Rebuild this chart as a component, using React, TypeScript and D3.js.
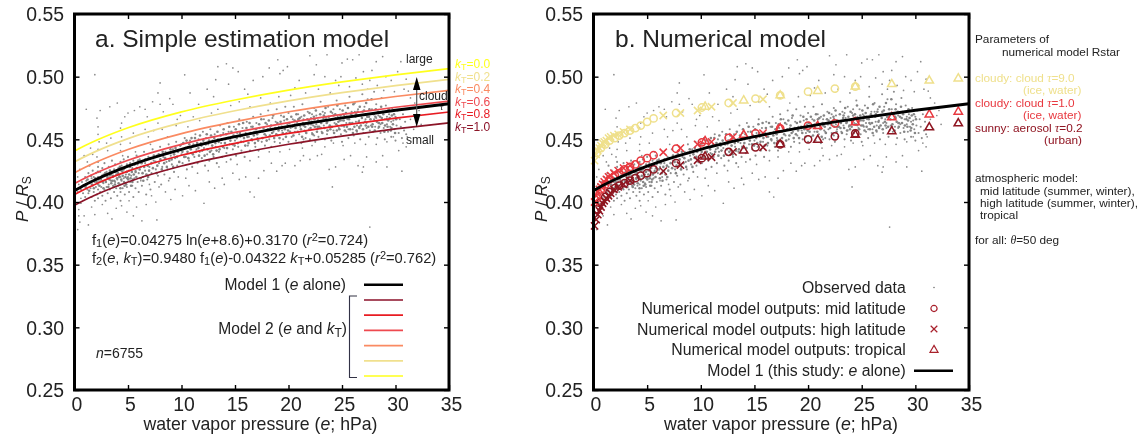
import React, { useEffect, useRef } from "react";
import * as d3 from "d3";

const W = 1145, H = 440;

// model curves, read at these e values
const eGrid = [0, 1, 2, 5, 10, 15, 20, 25, 30, 35];
const model1 = [0.409, 0.4137, 0.4179, 0.4286, 0.442, 0.4521, 0.4604, 0.4672, 0.4732, 0.4784];
const kt00 = [0.4406, 0.445, 0.449, 0.4592, 0.4719, 0.4814, 0.4893, 0.4958, 0.5015, 0.5064];
const kt02 = [0.432, 0.4364, 0.4404, 0.4506, 0.4633, 0.4728, 0.4807, 0.4872, 0.4929, 0.4978];
const kt04 = [0.4233, 0.4277, 0.4317, 0.4419, 0.4546, 0.4641, 0.472, 0.4785, 0.4842, 0.4891];
const kt06 = [0.4147, 0.4191, 0.4231, 0.4333, 0.446, 0.4555, 0.4634, 0.4699, 0.4756, 0.4805];
const kt08 = [0.406, 0.4104, 0.4144, 0.4246, 0.4373, 0.4468, 0.4547, 0.4612, 0.4669, 0.4718];
const kt10 = [0.3974, 0.4018, 0.4058, 0.416, 0.4287, 0.4382, 0.4461, 0.4526, 0.4583, 0.4632];

const ktSeries = [kt10, kt08, kt06, kt04, kt02, kt00];
const ktColors = ["#8b1228", "#e81c24", "#ee4a50", "#fa8a62", "#f0e08e", "#ffff1e"];
const ktLabels = ["1.0", "0.8", "0.6", "0.4", "0.2", "0.0"];

// numerical model outputs: e, then P/Rs for the three parameter sets
const midE = [0.3, 0.7, 1.1, 1.5, 2, 2.4, 2.9, 3.4, 3.9, 4.4, 5, 5.6, 7.7, 10.1, 12.6, 15.1, 17.4, 20, 22.5, 24.4];
const midCloud9 = [0.439, 0.443, 0.446, 0.449, 0.451, 0.453, 0.455, 0.457, 0.459, 0.461, 0.464, 0.4667, 0.471, 0.4754, 0.479, 0.4825, 0.485, 0.488, 0.4905, 0.492];
const midCloud1 = [0.403, 0.41, 0.414, 0.418, 0.421, 0.423, 0.426, 0.428, 0.43, 0.433, 0.435, 0.4373, 0.4425, 0.4476, 0.4512, 0.4548, 0.4587, 0.461, 0.4627, 0.4643];
const midAerosol = [0.394, 0.4, 0.404, 0.408, 0.411, 0.413, 0.415, 0.417, 0.419, 0.421, 0.423, 0.426, 0.431, 0.435, 0.44, 0.4436, 0.446, 0.45, 0.4524, 0.4548];

const highE = [0.1, 0.25, 0.4, 0.55, 0.7, 0.85, 1, 1.2, 1.4, 1.6, 1.9, 2.3, 2.8, 3.4, 6.5, 8.1, 9.7, 11, 13, 15.8];
const highCloud9 = [0.433, 0.438, 0.441, 0.443, 0.445, 0.447, 0.448, 0.449, 0.451, 0.452, 0.453, 0.454, 0.456, 0.458, 0.469, 0.471, 0.473, 0.476, 0.479, 0.482];
const highCloud1 = [0.4, 0.405, 0.408, 0.41, 0.412, 0.414, 0.416, 0.418, 0.42, 0.421, 0.423, 0.425, 0.427, 0.429, 0.4397, 0.443, 0.446, 0.448, 0.452, 0.455];
const highAerosol = [0.381, 0.386, 0.39, 0.393, 0.396, 0.399, 0.401, 0.403, 0.405, 0.407, 0.41, 0.412, 0.414, 0.417, 0.4246, 0.4294, 0.4333, 0.4357, 0.44, 0.4437];

const tropE = [10.4, 14, 17.4, 20.9, 24.4, 27.8, 31.3, 34];
const tropCloud9 = [0.476, 0.481, 0.485, 0.4885, 0.492, 0.494, 0.4968, 0.4985];
const tropCloud1 = [0.4485, 0.4535, 0.4587, 0.4605, 0.4635, 0.4675, 0.4698, 0.472];
const tropAerosol = [0.4362, 0.441, 0.446, 0.4495, 0.4535, 0.4564, 0.4595, 0.4627];

const markerColors = { cloud9: "#efe08c", cloud1: "#e8383f", aerosol: "#8f1420" };

const obsSparse = [
  1.9,.5016, 8,.495, 7.8,.487, 10.3,.5015, 8.9,.4825, 2.1,.467, 5,.471, 6.1,.476, 7.3,.48, 8,.478, 6.6,.474, 9.2,.478,
  1.3,.3817, 3.5,.3865, 5.5,.389, 6.3,.385, 7.7,.3857, 1.9,.39, 4.9,.392, 0.4,.394, 0.4,.389, 0.5,.384, 0.3,.378, 0.6,.399,
  14.2,.5103, 13.4,.508, 15.3,.504, 13.2,.4976, 14.8,.507, 19,.5135, 18.2,.507, 19.9,.508, 19.2,.5024, 19.5,.505, 22.6,.5095, 22,.5167, 22.4,.5016,
  25,.511, 26,.5135, 25.5,.514, 27,.504, 27.8,.505, 28.2,.512, 30.5,.512, 28.8,.516, 23.6,.5175, 26.6,.5175,
  26.9,.4238, 27,.428, 26.5,.429, 24.1,.412, 27.6,.38, 30.6,.4246, 23.8,.426, 24.4,.428, 25.2,.434, 29.2,.428, 28.2,.432,
  16.4,.408, 16.8,.404, 12.1,.399, 12.6,.416, 14,.414, 15.4,.418, 19.4,.429, 18.9,.4246, 22,.434, 22.7,.437, 19.7,.431, 17.7,.425,
  1.1,.474, 2.4,.473, 3.3,.476, 4,.479, 4.7,.468, 5.6,.473, 6.8,.468, 8.3,.472, 9.6,.466, 10.8,.487, 11.6,.478, 12.4,.49, 13,.484, 14.4,.494, 15.9,.49, 16.7,.497, 17.6,.5, 16.2,.486, 21,.497, 23.4,.5, 24.4,.497, 20.6,.491, 24.9,.5, 26.3,.499, 29.1,.5, 31,.498, 30.2,.504, 29.6,.497,
  31.2,.4885, 31.8,.479, 32.2,.473, 31.4,.466, 31.7,.458, 31.1,.452, 30.7,.447, 32.4,.462, 30.3,.441, 31,.444, 32,.469, 31.4,.483, 30.8,.49,
  0.9,.389, 1.6,.396, 2.6,.398, 3.1,.391, 3.9,.395, 4.4,.397, 5.1,.401, 5.8,.396, 6.7,.398, 7.2,.405, 7.6,.4, 8.5,.408, 9.4,.41, 10.1,.405, 10.7,.413, 11.3,.409, 9,.402, 13.1,.411, 13.8,.419, 14.8,.423, 16,.42, 17.2,.419, 18.4,.431, 20.6,.429, 21.4,.437, 21.1,.433, 23.1,.438, 25.8,.437, 27.3,.436, 28.8,.437,
  0.3,.408, 0.4,.414, 0.3,.42, 0.5,.426, 0.6,.403, 1.2,.432, 0.9,.437, 1.5,.443, 1.7,.438, 2.3,.448, 2.2,.454, 2.2,.46, 2.2,.442, 2.1,.436, 3.1,.441, 3,.447, 3.4,.451, 4.3,.459, 4.4,.452, 4.3,.446, 4.3,.441, 4.5,.437, 4.4,.463, 5.2,.447, 5.5,.455, 5.7,.44, 6.6,.458, 6.9,.452, 7.1,.446, 7.8,.463, 7.4,.457, 8.2,.458, 8.7,.452, 9.5,.461, 10.6,.46, 9.9,.469, 11.1,.468, 11.7,.465, 12.8,.471, 13.4,.474, 14.6,.477, 15.4,.48, 16.4,.476, 17.4,.483, 18.3,.479, 19.1,.484, 20.2,.485, 21.6,.487, 22.8,.49, 23.9,.487, 24.7,.493, 25.7,.492, 26.9,.494, 27.6,.497, 28.3,.493, 27.4,.49, 28.9,.489, 29.9,.488,
  6.2,.417, 7,.414, 7.9,.412, 8.8,.417, 9.7,.42, 10.4,.419, 11.5,.423, 12.5,.425, 13.5,.428, 14.2,.432, 15.2,.43, 16.4,.433, 17.2,.436, 18.2,.44, 19.2,.44, 20.1,.442, 21.3,.443, 22.2,.445, 23.4,.444, 24.2,.447, 25.1,.445, 26.2,.447, 27.2,.446, 28.2,.446, 29.2,.448, 29.8,.452,
];
const obsLow = [
  0.6,.41, 0.7,.416, 0.8,.407, 0.9,.413, 1,.42, 1,.404, 1.1,.417, 1.2,.41, 1.3,.423, 1.3,.407, 1.4,.415, 1.4,.429, 1.5,.411, 1.6,.419, 1.6,.404, 1.7,.425, 1.7,.413, 1.8,.408, 1.8,.42, 1.9,.416, 1.9,.401,
  2,.423, 2,.412, 2.1,.406, 2.1,.418, 2.2,.428, 2.2,.414, 2.2,.41, 2.2,.42, 2.2,.432, 2.2,.403, 2.3,.416, 2.4,.424, 2.4,.408, 2.5,.412, 2.5,.419, 2.6,.427, 2.6,.405, 2.7,.415, 2.7,.422, 2.8,.41, 2.8,.431, 2.9,.417, 2.9,.401,
  3,.412, 3,.424, 3.1,.419, 3.1,.407, 3.2,.414, 3.2,.428, 3.3,.421, 3.3,.41, 3.4,.417, 3.4,.403, 3.5,.424, 3.5,.433, 3.6,.413, 3.6,.42, 3.7,.408, 3.7,.426, 3.8,.416, 3.8,.43, 3.9,.422, 3.9,.411,
  4,.418, 4,.405, 4.1,.427, 4.1,.413, 4.2,.421, 4.3,.432, 4.3,.426, 4.3,.42, 4.3,.414, 4.3,.408, 4.3,.401, 4.4,.429, 4.4,.417, 4.5,.424, 4.5,.411, 4.6,.419, 4.6,.434, 4.7,.427, 4.7,.406, 4.8,.415, 4.8,.422, 4.9,.43, 4.9,.412, 5,.42, 5,.436, 5.1,.425, 5.1,.408, 5.2,.416, 5.2,.431, 5.3,.421, 5.4,.427, 5.4,.413, 5.5,.433, 5.5,.404, 5.6,.419, 5.7,.425, 5.7,.411, 5.8,.437, 5.9,.416, 5.9,.43,
  6,.423, 6,.408, 6.1,.434, 6.2,.428, 6.3,.413, 6.4,.42, 6.5,.44, 6.6,.431, 6.6,.425, 6.7,.406, 6.8,.418, 6.9,.436, 7,.428, 7.1,.41, 7.2,.423, 7.3,.442, 7.4,.433, 7.5,.416, 7.6,.426, 7.7,.437, 7.8,.421, 7.9,.431, 8,.444, 8.1,.414, 8.2,.428, 8.3,.436, 8.4,.422, 8.5,.44, 8.6,.432, 8.7,.426, 8.8,.446, 8.9,.419, 9,.437, 9.1,.43, 9.2,.442, 9.3,.424, 9.4,.435, 9.5,.448, 9.6,.429,
];
const obsMid = [
  10,.438, 10,.446, 10.1,.431, 10.2,.442, 10.3,.451, 10.4,.436, 10.5,.426, 10.6,.444, 10.7,.433, 10.8,.449, 10.9,.439, 11,.428, 11.1,.446, 11.2,.436, 11.3,.454, 11.4,.442, 11.5,.431, 11.6,.45, 11.7,.44, 11.8,.447, 11.9,.435, 12,.456, 12.1,.443, 12.2,.429, 12.3,.451, 12.4,.438, 12.5,.446, 12.6,.433, 12.7,.458, 12.8,.441, 12.9,.449, 13,.436, 13.1,.454, 13.2,.444, 13.3,.431, 13.4,.45, 13.5,.44, 13.6,.461, 13.7,.447, 13.8,.436, 13.9,.455, 14,.443,
  14.1,.45, 14.2,.439, 14.3,.463, 14.4,.456, 14.5,.446, 14.6,.434, 14.7,.452, 14.8,.442, 14.9,.46, 15,.449, 15.1,.437, 15.2,.455, 15.3,.444, 15.4,.466, 15.5,.452, 15.6,.441, 15.7,.459, 15.8,.448, 15.9,.436, 16,.455, 16.1,.464, 16.2,.445, 16.3,.452, 16.4,.441, 16.5,.46, 16.6,.449, 16.7,.468, 16.8,.456, 16.9,.444, 17,.463, 17.1,.451, 17.2,.441, 17.3,.459, 17.4,.47, 17.5,.448,
  17.6,.456, 17.7,.466, 17.8,.445, 17.9,.453, 18,.462, 18.1,.473, 18.2,.45, 18.3,.459, 18.4,.444, 18.5,.467, 18.6,.456, 18.7,.448, 18.8,.464, 18.9,.474, 19,.453, 19.1,.46, 19.2,.447, 19.3,.469, 19.4,.457, 19.5,.45, 19.6,.465, 19.7,.476, 19.8,.455, 19.9,.462, 20,.448, 20,.471,
];
const obsHigh = [
  20.2,.459, 20.3,.452, 20.4,.466, 20.5,.476, 20.6,.456, 20.7,.449, 20.8,.463, 20.9,.47, 21,.454, 21.1,.46, 21.2,.447, 21.3,.478, 21.4,.466, 21.5,.457, 21.6,.451, 21.7,.463, 21.8,.472, 21.9,.458, 22,.45, 22.1,.467, 22.2,.455, 22.3,.461, 22.4,.475, 22.5,.448, 22.6,.469, 22.7,.458, 22.8,.452, 22.9,.464, 23,.48, 23.1,.456, 23.2,.472, 23.3,.461, 23.4,.45, 23.5,.467, 23.6,.454, 23.7,.476, 23.8,.46, 23.9,.465, 24,.449,
  24.1,.471, 24.2,.457, 24.3,.463, 24.4,.452, 24.5,.481, 24.6,.468, 24.7,.459, 24.8,.474, 24.9,.454, 25,.465, 25,.448, 25.1,.47, 25.2,.46, 25.3,.477, 25.4,.456, 25.5,.466, 25.6,.451, 25.7,.484, 25.8,.462, 25.9,.472, 26,.458, 26,.468, 26.1,.453, 26.2,.479, 26.3,.464, 26.4,.456, 26.5,.474, 26.6,.46, 26.7,.45, 26.8,.469, 26.9,.486, 27,.463, 27,.455, 27.1,.476, 27.2,.466, 27.3,.459, 27.4,.482, 27.5,.452, 27.6,.47, 27.7,.461,
  27.8,.474, 27.9,.456, 28,.466, 28,.488, 28.1,.46, 28.2,.478, 28.3,.451, 28.4,.469, 28.5,.463, 28.6,.455, 28.7,.483, 28.8,.472, 28.9,.459, 29,.466, 29,.45, 29.1,.477, 29.2,.462, 29.3,.456, 29.4,.47, 29.5,.46, 29.6,.452, 29.7,.475, 29.8,.465, 29.9,.458, 30,.468, 30,.449, 30.1,.461, 30.2,.473, 30.3,.455, 30.4,.466, 30.5,.46, 30.6,.451, 30.7,.47, 30.8,.457, 30.9,.464, 31,.454,
  21.2,.468, 22.2,.47, 23.2,.465, 24.2,.474, 25.2,.469, 26.2,.472, 27.2,.47, 28.2,.467, 29.2,.468, 21.6,.456, 22.6,.462, 23.6,.457, 24.6,.461, 25.6,.458, 26.6,.465, 27.6,.457, 28.6,.462, 29.6,.464, 20.6,.462, 27.3,.463, 26.4,.461, 25.4,.463, 24.4,.467, 28.4,.459, 23.4,.471, 22.4,.453, 21.4,.45,
];
// the darkest part of the band, close to the model 1 curve
const obsCoreLow = [
  1.04,.412, 1.37,.409, 1.22,.418, 1.63,.414, 1.81,.411, 1.55,.421, 2.07,.416, 2.33,.413, 2.19,.424, 2.46,.418, 2.71,.411, 2.58,.421, 2.93,.416, 3.08,.42, 3.16,.412, 3.31,.425, 3.44,.415, 3.27,.418, 3.59,.421, 3.72,.417, 3.66,.412, 3.84,.424, 3.97,.419, 4.12,.415, 4.06,.423, 4.24,.428, 4.37,.418, 4.29,.411, 4.51,.421, 4.63,.416, 4.58,.426, 4.76,.42, 4.89,.424, 4.83,.414, 5.02,.418, 5.17,.428, 5.11,.422, 5.29,.413, 5.36,.424, 5.47,.418, 5.62,.43, 5.54,.422, 5.78,.42, 5.83,.427, 5.96,.433, 6.09,.426, 6.18,.419, 6.27,.431, 6.36,.423, 6.51,.428, 6.63,.434, 6.72,.422, 6.84,.429, 6.97,.425, 7.06,.435, 7.19,.431, 7.33,.427, 7.41,.437, 7.56,.432, 7.68,.423, 7.74,.429, 7.87,.438, 8.03,.434, 8.16,.426, 8.24,.44, 8.38,.431, 8.47,.435, 8.63,.428, 8.74,.439, 8.86,.433, 8.97,.442, 9.08,.434, 9.22,.428, 9.31,.438, 9.44,.443, 9.58,.436, 9.67,.44, 9.79,.432, 9.88,.445,
  1.12,.414, 1.46,.416, 1.93,.419, 2.26,.418, 2.64,.416, 2.87,.423, 3.39,.422, 3.52,.417, 3.78,.414, 4.18,.42, 4.41,.425, 4.68,.413, 4.94,.419, 5.24,.419, 5.41,.416, 5.71,.424, 6.43,.417, 6.88,.42,
];
const obsCoreMid = [
  10.08,.44, 10.17,.447, 10.26,.436, 10.38,.443, 10.47,.449, 10.56,.44, 10.64,.435, 10.73,.446, 10.87,.442, 10.94,.451, 11.07,.438, 11.18,.445, 11.26,.451, 11.34,.44, 11.46,.447, 11.58,.443, 11.64,.437, 11.73,.453, 11.86,.445, 11.93,.441, 12.04,.449, 12.16,.437, 12.27,.446, 12.36,.454, 12.43,.442, 12.57,.449, 12.66,.44, 12.76,.453, 12.87,.445, 12.96,.438, 13.06,.451, 13.17,.447, 13.28,.441, 13.36,.456, 13.47,.448, 13.56,.442, 13.66,.453, 13.78,.45, 13.87,.444, 13.94,.458, 14.06,.447, 14.17,.454, 14.26,.443, 14.38,.451, 14.46,.46, 14.57,.449, 14.66,.456, 14.77,.446, 14.86,.453, 14.96,.445, 15.07,.458, 15.16,.451, 15.26,.447, 15.37,.462, 15.46,.455, 15.57,.448, 15.66,.453, 15.76,.463, 15.84,.451, 15.96,.445, 16.07,.459, 16.16,.452, 16.26,.447, 16.36,.463, 16.46,.455, 16.56,.45, 16.64,.46, 16.76,.453, 16.86,.447, 16.96,.458, 17.07,.454, 17.16,.449, 17.26,.462, 17.36,.456, 17.46,.466, 17.57,.451, 17.66,.459, 17.77,.454, 17.86,.463, 17.96,.449, 18.07,.458, 18.16,.465, 18.26,.453, 18.37,.461, 18.47,.455, 18.56,.469, 18.66,.451, 18.76,.459, 18.86,.454, 18.96,.463, 19.07,.457, 19.16,.451, 19.26,.464, 19.36,.46, 19.46,.455, 19.56,.468, 19.66,.458, 19.76,.452, 19.86,.466, 19.96,.457,
];
const obsCoreHigh = [
  20.07,.463, 20.14,.456, 20.26,.468, 20.37,.46, 20.46,.453, 20.57,.465, 20.66,.459, 20.74,.47, 20.86,.456, 20.96,.462, 21.05,.467, 21.16,.458, 21.27,.452, 21.36,.463, 21.47,.469, 21.56,.46, 21.66,.455, 21.76,.466, 21.85,.462, 21.96,.471, 22.06,.459, 22.16,.464, 22.26,.454, 22.37,.468, 22.46,.46, 22.56,.473, 22.66,.456, 22.76,.465, 22.86,.46, 22.96,.47, 23.06,.463, 23.16,.455, 23.27,.467, 23.36,.459, 23.46,.475, 23.57,.463, 23.66,.457, 23.76,.468, 23.86,.461, 23.96,.472, 24.06,.46, 24.16,.466, 24.26,.455, 24.37,.47, 24.46,.462, 24.56,.477, 24.66,.464, 24.76,.458, 24.86,.469, 24.96,.461, 25.06,.473, 25.16,.465, 25.26,.457, 25.37,.471, 25.46,.46, 25.56,.475, 25.66,.466, 25.76,.458, 25.86,.47, 25.96,.463, 26.06,.478, 26.16,.46, 26.26,.468, 26.36,.457, 26.46,.472, 26.56,.464, 26.66,.476, 26.76,.461, 26.86,.467, 26.96,.458, 27.06,.473, 27.16,.464, 27.26,.479, 27.36,.468, 27.46,.46, 27.56,.474, 27.66,.466, 27.76,.482, 27.86,.462, 27.96,.47, 28.06,.457, 28.16,.474, 28.26,.464, 28.36,.472, 28.46,.46, 28.56,.468, 28.66,.476, 28.76,.463, 28.86,.47, 28.96,.456, 29.06,.472, 29.16,.466, 29.26,.46, 29.36,.474, 29.46,.467, 29.56,.457, 29.66,.469, 29.76,.462, 29.86,.47, 29.96,.455, 30.06,.466,
  20.43,.461, 20.92,.466, 21.42,.461, 21.91,.465, 22.12,.462, 22.42,.466, 22.71,.46, 23.02,.459, 23.31,.469, 23.62,.464, 23.91,.458, 24.21,.469, 24.52,.457, 24.82,.465, 25.12,.461, 25.42,.468, 25.72,.463, 26.02,.455, 26.32,.47, 26.62,.459, 26.92,.472, 27.22,.461, 27.52,.468, 27.82,.46, 28.12,.468, 28.42,.463, 28.72,.467, 29.02,.461, 29.32,.465, 29.62,.459,
];

const pairs = (flat: number[]) => d3.range(0, flat.length, 2).map(i => [flat[i], flat[i + 1]]);

const xTicks = [0, 5, 10, 15, 20, 25, 30, 35];
const yTicks = [0.25, 0.3, 0.35, 0.4, 0.45, 0.5, 0.55];
const yLabelFormat = d3.format(".2f");
const top = 14, bottom = 390;
const panelA = [74.5, 449];
const panelB = [593.5, 969];

const sans = "'Liberation Sans', Arial, sans-serif";
const serif = "'Liberation Serif', serif";

const drawFrame = (g, xScale, yScale) => {
  g.append("g").attr("transform", `translate(0,${bottom})`).call(d3.axisBottom(xScale).tickValues(xTicks).tickSize(-5).tickFormat(d3.format("d")))
    .call(s => s.selectAll("text").attr("y", 20.5).attr("dy", 0).attr("dx", 2));
  g.append("g").attr("transform", `translate(0,${top})`).call(d3.axisTop(xScale).tickValues(xTicks).tickSize(-5).tickFormat(() => ""));
  g.append("g").attr("transform", `translate(${xScale.range()[0]},0)`).call(d3.axisLeft(yScale).tickValues(yTicks).tickSize(-5).tickFormat(yLabelFormat))
    .call(s => s.selectAll("text").attr("x", -10.5).attr("dy", "0.35em"));
  g.append("g").attr("transform", `translate(${xScale.range()[1]},0)`).call(d3.axisRight(yScale).tickValues(yTicks).tickSize(-5).tickFormat(() => ""));
  g.selectAll(".domain").remove();
  g.selectAll(".tick line").attr("stroke", "#000").attr("stroke-width", 1.4);
  g.selectAll(".tick text").attr("fill", "#222").attr("font-size", 19.4).attr("font-family", sans);
  g.append("rect").attr("x", xScale.range()[0]).attr("y", top)
    .attr("width", xScale.range()[1] - xScale.range()[0]).attr("height", bottom - top)
    .attr("fill", "none").attr("stroke", "#000").attr("stroke-width", 3);
};

const drawObserved = (g, xScale, yScale) => {
  const groups = [
    [obsSparse, 0.85, "#8a8a8a"],
    [[...obsLow, ...obsMid, ...obsHigh], 1.05, "#8c8c8c"],
    [[...obsCoreLow, ...obsCoreMid, ...obsCoreHigh], 1.3, "#858585"],
  ];
  groups.forEach(([list, r, fill]) => {
    g.append("g").selectAll("circle").data(pairs(list)).join("circle")
      .attr("cx", d => xScale(d[0])).attr("cy", d => yScale(d[1])).attr("r", r).attr("fill", fill);
  });
};

const drawCurve = (g, xScale, yScale, values, color, width) => {
  const line = d3.line().x((_, i) => xScale(eGrid[i])).y(d => yScale(d)).curve(d3.curveMonotoneX);
  g.append("path").attr("d", line(values)).attr("fill", "none").attr("stroke", color).attr("stroke-width", width);
};

const drawMarkers = (g, xScale, yScale, es, ps, type, color, size) => {
  const symbol = d3.symbol().type(type).size(size);
  g.append("g").selectAll("path").data(es).join("path")
    .attr("transform", (d, i) => `translate(${xScale(d)},${yScale(ps[i])})`)
    .attr("d", symbol)
    .attr("fill", "none").attr("stroke", color).attr("stroke-width", 1.5);
};

const App = () => {
  const aRef = useRef<SVGGElement>(null);
  const bRef = useRef<SVGGElement>(null);

  useEffect(() => {
    const y = d3.scaleLinear().domain([0.25, 0.55]).range([bottom, top]);

    const xa = d3.scaleLinear().domain([0, 35]).range(panelA);
    const a = d3.select(aRef.current);
    a.selectAll("*").remove();
    drawObserved(a, xa, y);
    ktSeries.forEach((s, i) => drawCurve(a, xa, y, s, ktColors[i], 1.7));
    drawCurve(a, xa, y, model1, "#000", 2.8);
    drawFrame(a, xa, y);

    const xb = d3.scaleLinear().domain([0, 35]).range(panelB);
    const b = d3.select(bRef.current);
    b.selectAll("*").remove();
    drawObserved(b, xb, y);
    const sets = [
      [midCloud9, highCloud9, tropCloud9, markerColors.cloud9],
      [midAerosol, highAerosol, tropAerosol, markerColors.aerosol],
      [midCloud1, highCloud1, tropCloud1, markerColors.cloud1],
    ];
    sets.forEach(([mid, high, trop, c]) => {
      drawMarkers(b, xb, y, midE, mid, d3.symbolCircle, c, 42);
      drawMarkers(b, xb, y, highE, high, d3.symbolTimes, c, 36);
      drawMarkers(b, xb, y, tropE, trop, d3.symbolTriangle, c, 30);
    });
    drawCurve(b, xb, y, model1, "#000", 2.8);
    drawFrame(b, xb, y);

    // legend symbols in panel b
    const legendSymbols = [[d3.symbolCircle, 308.5, 30], [d3.symbolTimes, 329, 30], [d3.symbolTriangle, 350, 28]];
    legendSymbols.forEach(([t, ly, s]) => {
      b.append("path").attr("transform", `translate(934,${ly})`).attr("d", d3.symbol().type(t).size(s))
        .attr("fill", "none").attr("stroke", "#a8202c").attr("stroke-width", 1.2);
    });
  }, []);

  const it = { fontStyle: "italic" } as const;
  const sub = (t: string, size?: number) => <tspan baselineShift="-22%" fontSize={size}>{t}</tspan>;
  const sup = (t: string, size?: number) => <tspan baselineShift="38%" fontSize={size}>{t}</tspan>;
  const tau = <tspan fontFamily={serif} fontStyle="italic">τ</tspan>;
  const pRs = (
    <>
      <tspan style={it}>P</tspan> / <tspan style={it}>R</tspan>{sub("S", 12)}
    </>
  );
  const xLabel = (
    <>
      water vapor pressure (<tspan style={it}>e</tspan>; hPa)
    </>
  );

  return (
    <svg width={W} height={H} style={{ position: "absolute", left: 0, top: 0 }} fontFamily={sans} fill="#222">
      <defs>
        <filter id="soft" x="0" y="0" width={W} height={H} filterUnits="userSpaceOnUse">
          <feGaussianBlur stdDeviation="0.45" />
        </filter>
      </defs>
      <rect width={W} height={H} fill="#fff" />
      <g filter="url(#soft)">
        <g ref={aRef} />
        <g ref={bRef} />

        {/* panel a text */}
        <text x={95} y={47} fontSize={24.5}>a. Simple estimation model</text>
        <text transform="translate(28,222) rotate(-90)" fontSize={17}>{pRs}</text>
        <text x={260.5} y={430} fontSize={17.7} textAnchor="middle">{xLabel}</text>
        <text x={92} y={245} fontSize={14.7}>
          f{sub("1", 11)}(<tspan style={it}>e</tspan>)=0.04275 ln(<tspan style={it}>e</tspan>+8.6)+0.3170 (<tspan style={it}>r</tspan>{sup("2", 11)}=0.724)
        </text>
        <text x={92} y={263} fontSize={14.7}>
          f{sub("2", 11)}(<tspan style={it}>e</tspan>, <tspan style={it}>k</tspan>{sub("T", 11)})=0.9480 f{sub("1", 11)}(<tspan style={it}>e</tspan>)-0.04322 <tspan style={it}>k</tspan>{sub("T", 11)}+0.05285 (<tspan style={it}>r</tspan>{sup("2", 11)}=0.762)
        </text>
        <text x={346} y={290} fontSize={15.6} textAnchor="end">Model 1 (<tspan style={it}>e</tspan> alone)</text>
        <text x={347} y={334} fontSize={15.6} textAnchor="end">Model 2 (<tspan style={it}>e</tspan> and <tspan style={it}>k</tspan>{sub("T", 12)})</text>
        <text x={96} y={358} fontSize={14}><tspan style={it}>n</tspan>=6755</text>
        <text x={406} y={63} fontSize={12}>large</text>
        <text x={419} y={100} fontSize={12}>cloud</text>
        <text x={440} y={110} fontSize={9} fontFamily={serif} fontStyle="italic">τ</text>
        <text x={406} y={144} fontSize={12}>small</text>
        <line x1={416.7} x2={416.7} y1={82} y2={122} stroke="#555" strokeWidth={1.2} />
        <path d="M416.7 77 L420.5 90 L413 90 Z" fill="#000" />
        <path d="M416.7 127 L420.5 114 L413 114 Z" fill="#000" />
        {ktLabels.map((k, i) => (
          <text key={k} x={455} y={131 - i * 12.6} fontSize={12} fill={ktColors[i]}>
            <tspan style={it}>k</tspan>{sub("T", 9)}=
            {k}
          </text>
        ))}

        {/* legend lines, panel a */}
        <line x1={364} x2={403} y1={284.7} y2={284.7} stroke="#000" strokeWidth={2.4} />
        {ktColors.map((c, i) => (
          <line key={c} x1={364} x2={403} y1={300 + i * 15.2} y2={300 + i * 15.2} stroke={c} strokeWidth={1.7} />
        ))}
        <path d="M357 296 H349.5 V377.5 H357" fill="none" stroke="#334" strokeWidth={1.1} />

        {/* panel b text */}
        <text x={615} y={47} fontSize={24.5}>b. Numerical model</text>
        <text transform="translate(547,222) rotate(-90)" fontSize={17}>{pRs}</text>
        <text x={781} y={430} fontSize={17.7} textAnchor="middle">{xLabel}</text>
        <text x={905.7} y={293} fontSize={15.8} textAnchor="end">Observed data</text>
        <text x={905.7} y={314} fontSize={15.8} textAnchor="end">Numerical model outputs: mid latitude</text>
        <text x={905.7} y={335} fontSize={15.8} textAnchor="end">Numerical model outputs: high latitude</text>
        <text x={905.7} y={355} fontSize={15.8} textAnchor="end">Numerical model outputs: tropical</text>
        <text x={905.7} y={376} fontSize={15.8} textAnchor="end">Model 1 (this study: <tspan style={it}>e</tspan> alone)</text>
        <circle cx={934} cy={287.5} r={0.8} fill="#777" />
        <line x1={914} x2={953} y1={370.7} y2={370.7} stroke="#000" strokeWidth={2.4} />

        {/* parameter notes */}
        <g fontSize={11.8}>
          <text x={975} y={43}>Parameters of</text>
          <text x={1002} y={56}>numerical model Rstar</text>
          <text x={975} y={82} fill={markerColors.cloud9}>cloudy: cloud {tau}=9.0</text>
          <text x={1023} y={94} fill={markerColors.cloud9}>(ice, water)</text>
          <text x={975} y={107} fill={markerColors.cloud1}>cloudy: cloud {tau}=1.0</text>
          <text x={1023} y={119} fill={markerColors.cloud1}>(ice, water)</text>
          <text x={975} y={132} fill={markerColors.aerosol}>sunny: aerosol {tau}=0.2</text>
          <text x={1044} y={144} fill={markerColors.aerosol}>(urban)</text>
          <text x={975} y={182}>atmospheric model:</text>
          <text x={980} y={195}>mid latitude (summer, winter),</text>
          <text x={980} y={207}>high latitude (summer, winter),</text>
          <text x={980} y={219}>tropical</text>
          <text x={975} y={244}>for all: <tspan fontFamily={serif} fontStyle="italic">θ</tspan>=50 deg</text>
        </g>
      </g>
    </svg>
  );
};

export default App;
